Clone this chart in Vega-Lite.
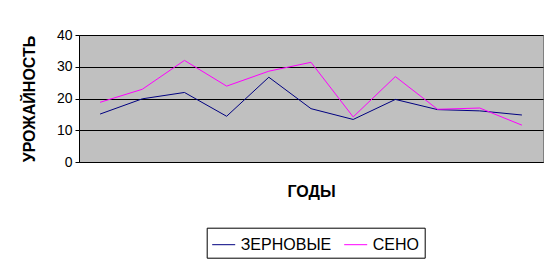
{
  "$schema": "https://vega.github.io/schema/vega-lite/v6.json",
  "width": 464,
  "height": 127,
  "autosize": {"type": "none"},
  "padding": {"left": 79, "top": 35, "right": 16, "bottom": 101},
  "background": "white",
  "config": {
    "font": "Liberation Sans",
    "view": {"fill": "#C0C0C0", "stroke": "#808080", "strokeWidth": 1}
  },
  "data": {
    "values": [
      {"year": "1", "series": "ЗЕРНОВЫЕ", "value": 15.1},
      {"year": "2", "series": "ЗЕРНОВЫЕ", "value": 19.9},
      {"year": "3", "series": "ЗЕРНОВЫЕ", "value": 21.9},
      {"year": "4", "series": "ЗЕРНОВЫЕ", "value": 14.4},
      {"year": "5", "series": "ЗЕРНОВЫЕ", "value": 26.7},
      {"year": "6", "series": "ЗЕРНОВЫЕ", "value": 16.8},
      {"year": "7", "series": "ЗЕРНОВЫЕ", "value": 13.4},
      {"year": "8", "series": "ЗЕРНОВЫЕ", "value": 19.7},
      {"year": "9", "series": "ЗЕРНОВЫЕ", "value": 16.5},
      {"year": "10", "series": "ЗЕРНОВЫЕ", "value": 16.1},
      {"year": "11", "series": "ЗЕРНОВЫЕ", "value": 14.8},
      {"year": "1", "series": "СЕНО", "value": 18.8},
      {"year": "2", "series": "СЕНО", "value": 22.9},
      {"year": "3", "series": "СЕНО", "value": 32.0},
      {"year": "4", "series": "СЕНО", "value": 23.9},
      {"year": "5", "series": "СЕНО", "value": 28.6},
      {"year": "6", "series": "СЕНО", "value": 31.4},
      {"year": "7", "series": "СЕНО", "value": 14.2},
      {"year": "8", "series": "СЕНО", "value": 26.9},
      {"year": "9", "series": "СЕНО", "value": 16.6},
      {"year": "10", "series": "СЕНО", "value": 17.0},
      {"year": "11", "series": "СЕНО", "value": 11.6}
    ]
  },
  "mark": {"type": "line", "strokeWidth": 1},
  "encoding": {
    "x": {
      "field": "year",
      "type": "ordinal",
      "sort": ["1","2","3","4","5","6","7","8","9","10","11"],
      "scale": {"type": "point", "padding": 0.5},
      "axis": {
        "title": "ГОДЫ",
        "labels": false,
        "ticks": false,
        "domain": true,
        "domainColor": "black",
        "titleFontSize": 16,
        "titleFontWeight": "bold",
        "titleColor": "black",
        "titleFont": "Liberation Sans",
        "titleY": 34,
        "titleBaseline": "alphabetic"
      }
    },
    "y": {
      "field": "value",
      "type": "quantitative",
      "scale": {"domain": [0, 40]},
      "axis": {
        "title": "УРОЖАЙНОСТЬ",
        "values": [0, 10, 20, 30, 40],
        "grid": true,
        "gridColor": "black",
        "gridOpacity": 1,
        "gridWidth": 1,
        "domainColor": "black",
        "tickColor": "black",
        "tickSize": 4,
        "labelPadding": 3,
        "labelFontSize": 14,
        "labelColor": "black",
        "labelFont": "Liberation Sans",
        "titleFontSize": 16,
        "titleFontWeight": "bold",
        "titleColor": "black",
        "titleFont": "Liberation Sans",
        "titleAngle": -90,
        "titleX": -50,
        "titleY": 63.5,
        "titleAlign": "center",
        "titleBaseline": "middle"
      }
    },
    "color": {
      "field": "series",
      "type": "nominal",
      "scale": {"domain": ["ЗЕРНОВЫЕ", "СЕНО"], "range": ["#000080", "#FF00FF"]},
      "legend": {
        "title": null,
        "orient": "none",
        "legendX": 127.7,
        "legendY": 192.7,
        "direction": "horizontal",
        "strokeColor": "black",
        "fillColor": "white",
        "padding": 5,
        "symbolType": "stroke",
        "symbolSize": 529,
        "symbolStrokeWidth": 1,
        "labelFontSize": 16,
        "labelFont": "Liberation Sans",
        "labelColor": "black",
        "labelOffset": 5,
        "columnPadding": 10
      }
    }
  }
}
